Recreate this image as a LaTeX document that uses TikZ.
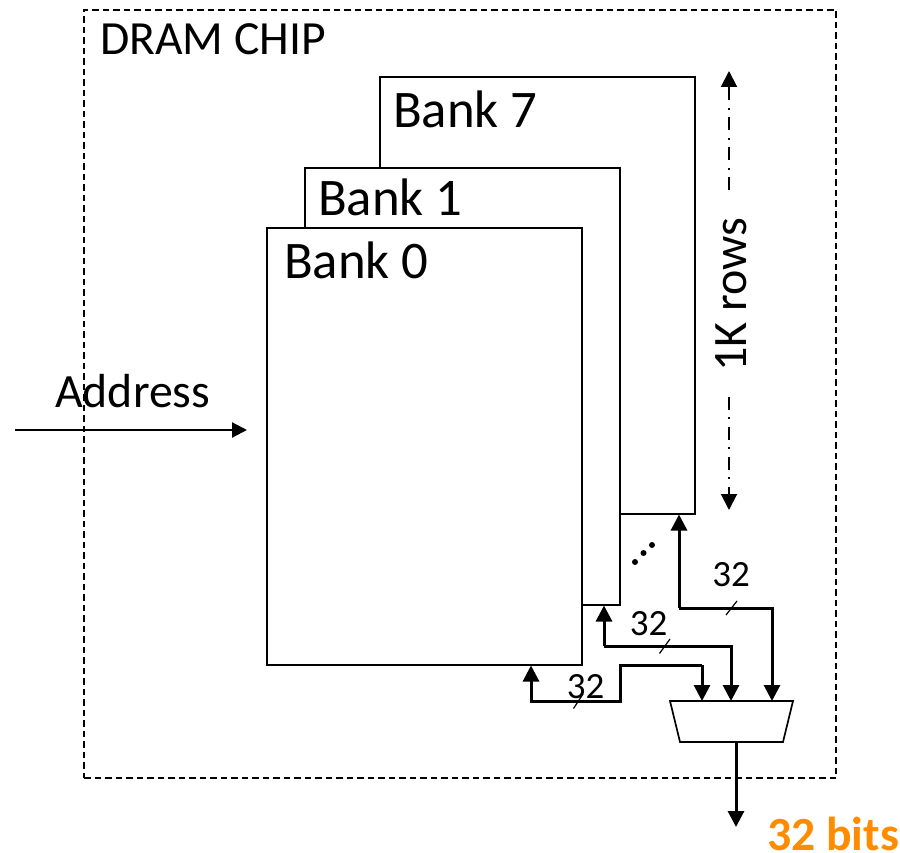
\documentclass[tikz,border=0pt]{standalone}
\usepackage{fontspec}
\setmainfont{Carlito}
\usetikzlibrary{arrows.meta,calc}
\definecolor{bitsorange}{HTML}{FF8C00}
\newcommand{\pxfont}[1]{\fontsize{#1pt}{#1pt}\selectfont}
\tikzset{
  x=1pt,y=-1pt,
  bank/.style={draw=black,line width=1.7pt,fill=white,inner sep=0pt,outer sep=0pt,minimum width=315pt,minimum height=437pt,anchor=north west},
  banktext/.style={font=\pxfont{52.8},anchor=base west,inner sep=0pt},
  buslabel/.style={font=\pxfont{37},inner sep=0pt,anchor=base},
  bus/.style={line width=3pt,-{Triangle[length=16pt,width=16pt]},line join=miter},
  tick/.style={line width=1.2pt},
  rowsline/.style={line width=2pt,dash pattern=on 13pt off 7pt on 2pt off 8pt,-{Triangle[length=16pt,width=16pt]}},
}
\begin{document}
\begin{tikzpicture}
\useasboundingbox (0,0) rectangle (900,853);
\node[draw=black,line width=1.7pt,dash pattern=on 6.5pt off 4pt,inner sep=0pt,outer sep=0pt,minimum width=752pt,minimum height=768pt,anchor=north west] (chip) at (84,10) {};
\node[font=\pxfont{47.6},anchor=base west,inner sep=0pt] (chipname) at (100,55) {DRAM CHIP};
\node[bank] (b7) at (380,77) {};
\node[bank] (b1) at (305,168) {};
\node[bank] (b0) at (267,228) {};
\node[banktext] (b7t) at (393,127.5) {Bank 7};
\node[banktext] (b1t) at (318,216) {Bank 1};
\node[banktext] (b0t) at (284,279) {Bank 0};
% address
\coordinate (addrstart) at (15,430);
\coordinate (addrend) at (247,430);
\node[font=\pxfont{47.8},anchor=base west,inner sep=0pt] (addr) at (55,407) {Address};
\draw[line width=2.2pt,-{Triangle[length=15pt,width=15pt]}] (addrstart) -- (addrend);
% mux
\coordinate (mtl) at (670,701);
\coordinate (mtr) at (793,701);
\coordinate (mbr) at (783,742);
\coordinate (mbl) at (680,742);
\draw[line width=1.7pt,fill=white] (mtl) -- (mtr) -- (mbr) -- (mbl) -- cycle;
\coordinate (m0) at (702,701);
\coordinate (m1) at (731,701);
\coordinate (m7) at (772,701);
\coordinate (mout) at (736,742);
\coordinate (outend) at (736,827);
\coordinate (b0in) at (531,665.5);
\coordinate (b1in) at (604,605.5);
\coordinate (b7in) at (679,514.5);
% buses
\draw[bus] (m0 |- 0,665) -- (620,665) -- (620,701) -- (b0in |- 0,701) -- (b0in);
\draw[bus] (m0 |- 0,665) -- (m0);
\draw[bus] (b1in |- 0,646) -- (b1in);
\draw[bus] (b1in |- 0,646) -- (m1 |- 0,646) -- (m1);
\draw[bus] (b7in |- 0,608) -- (b7in);
\draw[bus] (b7in |- 0,608) -- (m7 |- 0,608) -- (m7);
\draw[bus] (mout) -- (outend);
% slashes
\draw[tick] (573.5,708.5) -- (583,694);
\draw[tick] (659.5,653.5) -- (670,639);
\draw[tick] (726,615) -- (737,601);
\node[buslabel] (l0) at (585.5,698) {32};
\node[buslabel] (l1) at (648.5,635.5) {32};
\node[buslabel] (l7) at (731,586) {32};
% dots
\fill (635,562) circle (3pt);
\fill (643.5,553) circle (3pt);
\fill (652,545) circle (3pt);
% rows
\coordinate (rt0) at (729,190);
\coordinate (rt1) at (729,71);
\coordinate (rb0) at (729,397);
\coordinate (rb1) at (729,510);
\draw[rowsline] (rt0) -- (rt1);
\draw[rowsline] (rb0) -- (rb1);
\node[font=\pxfont{48},rotate=90,inner sep=0pt,anchor=base] (rows) at (746,294.5) {1K rows};
% output label
\node[font=\pxfont{47.6}\bfseries,text=bitsorange,anchor=base west,inner sep=0pt] (bits) at (767,850) {32 bits};
\end{tikzpicture}
\end{document}
